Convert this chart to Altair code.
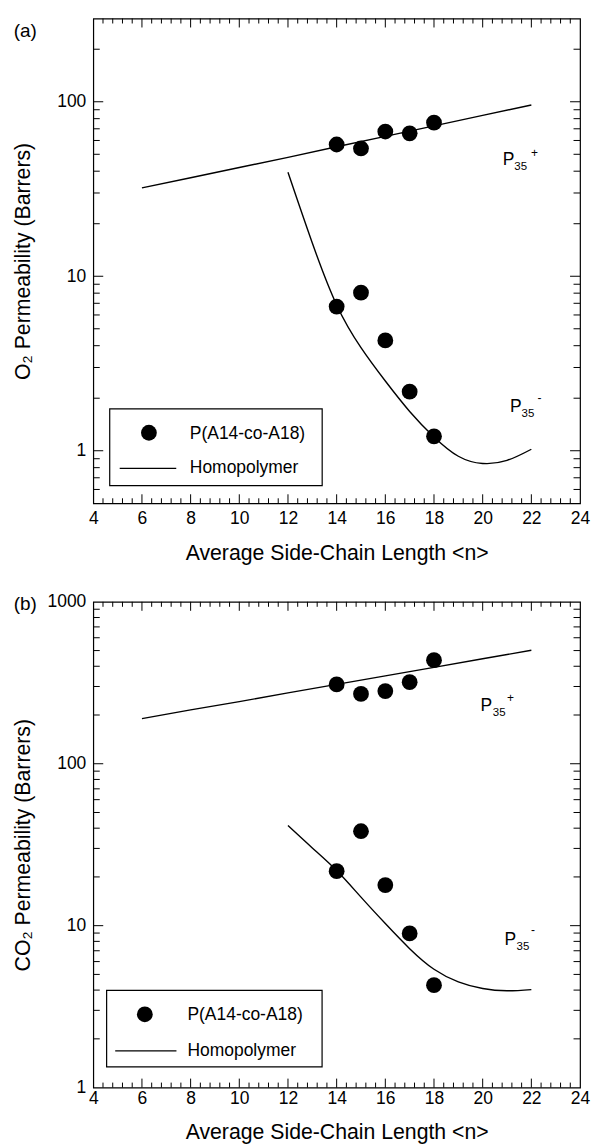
import altair as alt
import pandas as pd

FONT = "Liberation Sans"

# ---------------- data ----------------
n_points = [14, 15, 16, 17, 18]
o2_copoly_plus = [56.9, 54.0, 67.5, 65.9, 75.9]
o2_copoly_minus = [6.70, 8.05, 4.29, 2.18, 1.21]
co2_copoly_plus = [309, 270, 281, 319, 436]
co2_copoly_minus = [21.7, 38.3, 17.8, 8.96, 4.29]

n_homo_plus = [6, 8, 10, 12, 14, 16, 18, 20, 22]
o2_homo_plus = [32.1, 36.7, 42.0, 48.0, 55.2, 63.3, 72.8, 83.5, 95.8]
co2_homo_plus = [190, 215, 242, 274, 309, 349, 394, 445, 502]

n_homo_minus = [12, 13, 14, 15, 16, 17, 18, 19, 20, 21, 22]
o2_homo_minus = [39.4, 15.5, 6.85, 3.9, 2.51, 1.68, 1.2, 0.93, 0.845, 0.88, 1.02]
co2_homo_minus = [41.5, 30.2, 21.9, 15.0, 10.3, 7.21, 5.38, 4.5, 4.09, 3.96, 4.03]

x_tick_labels = [4, 6, 8, 10, 12, 14, 16, 18, 20, 22, 24]
o2_tick_labels = [1, 10, 100]
co2_tick_labels = [1, 10, 100, 1000]

series_names = ["P(A14-co-A18)", "Homopolymer"]

# ---------------- tick positions (axis structure) ----------------
x_major = [6, 8, 10, 12, 14, 16, 18, 20, 22]
x_minor = [round(4 + 0.4 * i, 1) for i in range(1, 50) if i % 5 != 0]

o2_major = [1, 10, 100]
o2_minor = [0.6, 0.7, 0.8, 0.9] + [m * d for d in (1, 10) for m in range(2, 10)] + [200]
co2_major = [10, 100]
co2_minor = [m * d for d in (1, 10, 100) for m in range(2, 10)]

W = 488


def make_panel(H, ydom, ylabels, ytitle, y_major, y_minor,
               pts_plus, pts_minus, homo_plus, homo_minus,
               ann, legend, tag, tag_y, xlab_pad, xtitle_y):
    xscale = alt.Scale(domain=[4, 24], nice=False, zero=False)
    yscale = alt.Scale(type="log", domain=ydom, nice=False)
    xaxis = alt.Axis(values=x_tick_labels, format="d", ticks=False, tickSize=0,
                     domain=False, grid=False, labelFont=FONT, labelFontSize=17.5,
                     labelColor="black", labelPadding=xlab_pad, labelFlush=False,
                     labelOverlap=False, title="Average Side-Chain Length <n>",
                     titleFont=FONT, titleFontSize=21.3, titleFontWeight="normal",
                     titleColor="black", titleBaseline="alphabetic", titleAlign="center",
                     titleX=W / 2, titleY=xtitle_y)
    yaxis = alt.Axis(values=ylabels, format="d", ticks=False, tickSize=0,
                     domain=False, grid=False, labelFont=FONT, labelFontSize=17.5,
                     labelColor="black", labelPadding=7.5, labelFlush=False,
                     labelOverlap=False, title=ytitle, titleFont=FONT,
                     titleFontSize=21.3, titleFontWeight="normal", titleColor="black",
                     titleAngle=270, titleAlign="center", titleBaseline="top",
                     titleX=-81, titleY=H / 2)
    X = alt.X("n:Q", scale=xscale, axis=xaxis)
    Y = alt.Y("p:Q", scale=yscale, axis=yaxis)

    lines_df = pd.DataFrame({"n": n_homo_plus, "p": homo_plus})
    lines_df2 = pd.DataFrame({"n": n_homo_minus, "p": homo_minus})
    upper = alt.Chart(lines_df).mark_line(color="black", strokeWidth=1.4).encode(x=X, y=Y)
    lower = alt.Chart(lines_df2).mark_line(color="black", strokeWidth=1.4,
                                           interpolate="natural").encode(x=X, y=Y)

    pts_df = pd.DataFrame({"n": n_points + n_points, "p": pts_plus + pts_minus})
    pts = alt.Chart(pts_df).mark_circle(size=250, color="black", opacity=1).encode(x=X, y=Y)

    layers = [upper, lower, pts]

    # inward ticks drawn with the chart's own scales
    def xt(vals, y0, y1):
        return alt.Chart(pd.DataFrame({"n": vals})).mark_rule(
            color="black", strokeWidth=1).encode(x=X, y=alt.value(y0), y2=alt.value(y1))

    def yt(vals, x0, x1):
        return alt.Chart(pd.DataFrame({"p": vals})).mark_rule(
            color="black", strokeWidth=1).encode(y=Y, x=alt.value(x0), x2=alt.value(x1))

    layers += [xt(x_major, H, H - 9), xt(x_minor, H, H - 5),
               xt(x_major, 0, 9), xt(x_minor, 0, 5),
               yt(y_major, 0, 10), yt(y_minor, 0, 6.5),
               yt(y_major, W - 10, W), yt(y_minor, W - 6.5, W)]

    # P35 annotations
    for (ax, ay, sign, sdx, sdy, gdx, gdy) in ann:
        adf = pd.DataFrame({"n": [ax], "p": [ay]})
        base = alt.Chart(adf)
        layers.append(base.mark_text(text="P", font=FONT, fontSize=17.5, align="left",
                                     baseline="alphabetic", color="black").encode(x=X, y=Y))
        layers.append(base.mark_text(text="35", font=FONT, fontSize=11.5, align="left",
                                     baseline="alphabetic", color="black",
                                     dx=sdx, dy=sdy).encode(x=X, y=Y))
        layers.append(base.mark_text(text=sign, font=FONT, fontSize=12, align="left",
                                     baseline="alphabetic", color="black",
                                     dx=gdx, dy=gdy).encode(x=X, y=Y))

    # legend box
    (bx0, bx1, by0, by1, cx, cy, tx, ty1, lx0, lx1, ly, ty2) = legend
    one = alt.Chart(pd.DataFrame({"k": [0]}))
    layers.append(one.mark_rect(fill="white", stroke="black", strokeWidth=1.2).encode(
        x=alt.value(bx0), x2=alt.value(bx1), y=alt.value(by0), y2=alt.value(by1)))
    layers.append(one.mark_circle(size=250, color="black", opacity=1).encode(
        x=alt.value(cx), y=alt.value(cy)))
    layers.append(one.mark_text(text=series_names[0], font=FONT, fontSize=17.5, align="left",
                                baseline="middle", color="black").encode(
        x=alt.value(tx), y=alt.value(ty1)))
    layers.append(one.mark_rule(color="black", strokeWidth=1.4).encode(
        x=alt.value(lx0), x2=alt.value(lx1), y=alt.value(ly)))
    layers.append(one.mark_text(text=series_names[1], font=FONT, fontSize=17.5, align="left",
                                baseline="middle", color="black").encode(
        x=alt.value(tx), y=alt.value(ty2)))

    # panel tag
    layers.append(one.mark_text(text=tag, font=FONT, fontSize=19, align="left",
                                baseline="middle", color="black").encode(
        x=alt.value(-79.8), y=alt.value(tag_y)))

    return alt.layer(*layers).properties(width=W, height=H)


panel_a = make_panel(
    486, [0.5, 300], o2_tick_labels, "O\u2082 Permeability (Barrers)", o2_major, o2_minor,
    o2_copoly_plus, o2_copoly_minus, o2_homo_plus, o2_homo_minus,
    ann=[(20.82, 43.4, "+", 11.7, 4.5, 28.4, -8.4),
         (21.12, 1.675, "-", 11.6, 5.0, 27.6, -9.7)],
    legend=(16.5, 229.5, 391.3, 468.3, 55.8, 415.3, 96.8, 416.5, 26.5, 83.2, 451, 450.5),
    tag="(a)", tag_y=12.5, xlab_pad=6.5, xtitle_y=56.5)

panel_b = make_panel(
    487, [1, 1000], co2_tick_labels, "CO\u2082 Permeability (Barrers)", co2_major, co2_minor,
    co2_copoly_plus, co2_copoly_minus, co2_homo_plus, co2_homo_minus,
    ann=[(19.91, 211.7, "+", 12.3, 5.0, 26.7, -9.0),
         (20.9, 7.64, "-", 12.0, 5.5, 26.4, -11.0)],
    legend=(13.4, 229.4, 389.5, 466.2, 51.7, 413.5, 94.4, 414.5, 22.0, 83.4, 450.2, 450),
    tag="(b)", tag_y=2, xlab_pad=1.5, xtitle_y=51.5)

chart = alt.vconcat(panel_a, panel_b, spacing=98.8, bounds="flush").properties(
    padding={"left": 11.5, "top": 15.1, "right": 0, "bottom": 0}
).configure(font=FONT).configure_view(stroke="black", strokeWidth=1.2)

chart.save("out.html", embed_options={"renderer": "svg", "actions": False})
